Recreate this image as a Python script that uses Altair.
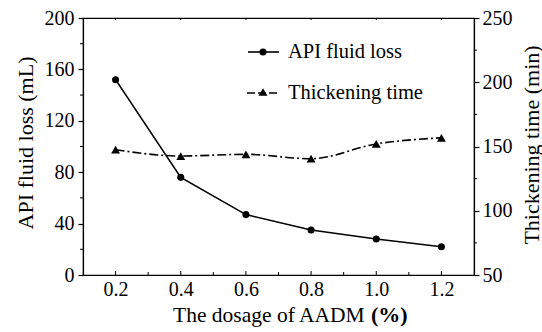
import altair as alt
import pandas as pd

dosage = [0.2, 0.4, 0.6, 0.8, 1.0, 1.2]
fluid_loss = [152, 76, 47, 35, 28, 22]
thickening = [147.5, 142.6, 143.9, 140.5, 152, 156.8]

x_major = [0.2, 0.4, 0.6, 0.8, 1.0, 1.2]
x_minor = [0.3, 0.5, 0.7, 0.9, 1.1]
left_major = [0, 40, 80, 120, 160, 200]
left_minor = [20, 60, 100, 140, 180]
right_major = [50, 100, 150, 200, 250]
right_minor = [75, 125, 175, 225]

legend_labels = ["API fluid loss", "Thickening time"]
x_title_main = "The dosage of AADM"
x_title_unit = "(%)"
left_title = "API fluid loss (mL)"
right_title = "Thickening time (min)"

W, H = 391, 257
FONT = "Liberation Serif"

df = pd.DataFrame({"x": dosage, "loss": fluid_loss, "time": thickening})

xscale = alt.Scale(domain=[0.1, 1.3], nice=False, zero=False)
xaxis = alt.Axis(values=x_major, format=".1f", ticks=False, title=None,
                 labelFont=FONT, labelFontSize=20, labelPadding=4, labelColor="black",
                 domainColor="black", domainWidth=1.2, grid=False)
lscale = alt.Scale(domain=[0, 200], nice=False)
rscale = alt.Scale(domain=[50, 250], nice=False)
laxis = alt.Axis(orient="left", values=left_major, title=left_title, tickSize=5,
                 labelFont=FONT, titleFont=FONT,
                 labelFontSize=20, labelPadding=4, titleFontSize=22,
                 titleFontWeight="normal", titleAngle=270, titleX=-58,
                 titleY=H / 2 - 4, titleAlign="center", titleBaseline="middle",
                 grid=False, domainColor="black", tickColor="black",
                 domainWidth=1.2, tickWidth=1.2,
                 labelColor="black", titleColor="black")
raxis = alt.Axis(orient="right", values=right_major, title=right_title, tickSize=5,
                 labelFont=FONT, titleFont=FONT,
                 labelFontSize=20, labelPadding=3, titleFontSize=22,
                 titleFontWeight="normal", titleAngle=270, titleX=57,
                 titleY=H / 2 - 2, titleAlign="center", titleBaseline="middle",
                 grid=False, domainColor="black", tickColor="black",
                 domainWidth=1.2, tickWidth=1.2,
                 labelColor="black", titleColor="black")

X = alt.X("x:Q", scale=xscale, axis=xaxis)

# left layer
loss_line = alt.Chart(df).mark_line(color="black", strokeWidth=1.6).encode(
    x=X, y=alt.Y("loss:Q", scale=lscale, axis=laxis))
loss_pts = alt.Chart(df).mark_point(filled=True, color="black", size=50, opacity=1).encode(
    x=X, y=alt.Y("loss:Q", scale=lscale, axis=laxis))

lminor_df = pd.DataFrame({"loss": left_minor})
lminor = alt.Chart(lminor_df).mark_rule(color="black", strokeWidth=1).encode(
    y=alt.Y("loss:Q", scale=lscale, axis=laxis),
    x=alt.value(-3), x2=alt.value(0))

xmaj_df = pd.DataFrame({"x": x_major})
xmin_df = pd.DataFrame({"x": x_minor})
xmaj = alt.Chart(xmaj_df).mark_rule(color="black", strokeWidth=1).encode(
    x=X, y=alt.value(H), y2=alt.value(H - 4))
xmin = alt.Chart(xmin_df).mark_rule(color="black", strokeWidth=1).encode(
    x=X, y=alt.value(H), y2=alt.value(H - 3))
xmaj_top = alt.Chart(xmaj_df).mark_rule(color="black", strokeWidth=1).encode(
    x=X, y=alt.value(0), y2=alt.value(2))

# legend
leg_df = pd.DataFrame({"label": legend_labels})
leg1_line = alt.Chart(leg_df.iloc[[0]]).mark_rule(color="black", strokeWidth=1.6).encode(
    x=alt.value(165), x2=alt.value(196), y=alt.value(34))
leg1_pt = alt.Chart(leg_df.iloc[[0]]).mark_point(filled=True, color="black", size=50, opacity=1).encode(
    x=alt.value(180), y=alt.value(34))
leg2_line = alt.Chart(leg_df.iloc[[1]]).mark_rule(color="black", strokeWidth=1.6, strokeDash=[8, 3]).encode(
    x=alt.value(164), x2=alt.value(196), y=alt.value(75))
leg2_pt = alt.Chart(leg_df.iloc[[1]]).mark_point(filled=True, color="black", shape="triangle-up", size=80, opacity=1).encode(
    x=alt.value(180), y=alt.value(74))
leg1_txt = alt.Chart(leg_df.iloc[[0]]).mark_text(align="left", baseline="middle", fontSize=20.5, font=FONT, color="black").encode(
    x=alt.value(205), y=alt.value(34), text="label:N")
leg2_txt = alt.Chart(leg_df.iloc[[1]]).mark_text(align="left", baseline="middle", fontSize=20.5, font=FONT, color="black").encode(
    x=alt.value(205), y=alt.value(75), text="label:N")

# x title as text
xt_df = pd.DataFrame({"a": [x_title_main], "b": [x_title_unit]})
xt1 = alt.Chart(xt_df).mark_text(align="left", baseline="alphabetic", fontSize=21.5, font=FONT, color="black").encode(
    x=alt.value(90), y=alt.value(H + 47), text="a:N")
xt2 = alt.Chart(xt_df).mark_text(align="left", baseline="alphabetic", fontSize=22, fontWeight="bold", font=FONT, color="black").encode(
    x=alt.value(288), y=alt.value(H + 47), text="b:N")

left = alt.layer(loss_line, loss_pts, lminor, xmaj, xmin, xmaj_top,
                 leg1_line, leg1_pt, leg2_line, leg2_pt, leg1_txt, leg2_txt, xt1, xt2)

# right layer
time_line = alt.Chart(df).mark_line(color="black", strokeWidth=1.6, strokeDash=[9, 3, 2, 3],
                                    interpolate="monotone").encode(
    x=X, y=alt.Y("time:Q", scale=rscale, axis=raxis))
time_pts = alt.Chart(df).mark_point(filled=True, color="black", shape="triangle-up", size=80, opacity=1).encode(
    x=X, y=alt.Y("time:Q", scale=rscale, axis=raxis))
rminor_df = pd.DataFrame({"time": right_minor})
rminor = alt.Chart(rminor_df).mark_rule(color="black", strokeWidth=1).encode(
    y=alt.Y("time:Q", scale=rscale, axis=raxis),
    x=alt.value(W), x2=alt.value(W + 3))

right = alt.layer(time_line, time_pts, rminor)

chart = alt.layer(left, right).resolve_scale(y="independent").properties(
    width=W, height=H,
    autosize=alt.AutoSizeParams(type="none"),
    padding={"left": 83, "top": 18, "right": 68, "bottom": 57},
    background="white",
).configure_view(stroke="black", strokeWidth=1.2).configure_axis(
    labelFont=FONT, titleFont=FONT
).configure_text(font=FONT)

chart.save("out.html", embed_options={"renderer": "svg", "actions": False})
